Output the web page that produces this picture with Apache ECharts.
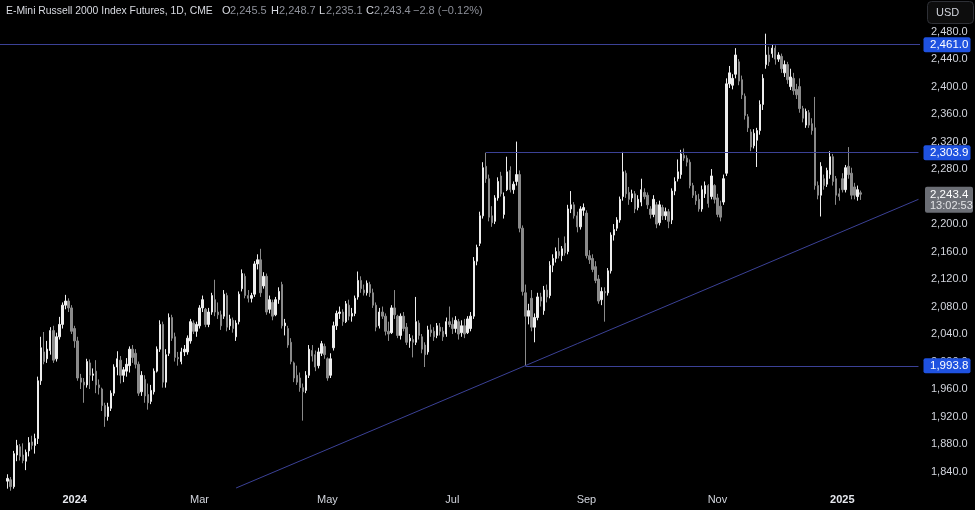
<!DOCTYPE html>
<html><head><meta charset="utf-8">
<script src="https://cdn.jsdelivr.net/npm/echarts@6/dist/echarts.min.js"></script>
<style>html,body{margin:0;padding:0;background:#000;}#c{width:975px;height:510px;}</style>
</head><body><div id="c"></div>
<script>
// ---- data (E-Mini Russell 2000 Index Futures, 1D, CME) ----
const firstDate = '2023-11-29';   // first candle
const leadSlots = 2;               // empty slots before first candle
const totalSlots = 302;            // visible bar slots incl. empty right margin
const holidays = ['2023-12-25','2024-01-01','2024-01-15','2024-02-19','2024-03-29','2024-05-27','2024-06-19','2024-07-04','2024-09-02','2024-11-28','2024-12-25','2025-01-01','2025-01-20'];

const opens = [
1826,1828,1818,1864,1876,1864,1855,1870,1883,1878,
1888,1972,2014,2004,2016,2045,2004,2036,2054,2082,
2088,2078,2048,2030,1976,1970,1966,1998,1980,1986,
1966,1960,1936,1920,1932,1954,1992,2002,1980,1986,
1994,2018,2012,1996,1956,1974,1952,1942,1956,1986,
2018,2054,1970,2012,2064,2036,2006,2000,2014,2014,
2030,2056,2044,2052,2078,2076,2054,2072,2090,2072,
2068,2066,2096,2052,2060,2036,2058,2106,2124,2096,
2092,2098,2142,2148,2110,2124,2076,2086,2068,2090,
2112,2052,2048,2028,1998,1980,1976,1962,1958,1980,
2016,2010,1994,2012,2022,2004,1980,2020,2052,2070,
2072,2058,2082,2066,2070,2094,2118,2104,2100,2112,
2100,2082,2052,2072,2066,2044,2042,2078,2066,2038,
2066,2050,2030,2032,2028,2056,2036,2024,2014,2046,
2044,2038,2050,2044,2040,2058,2054,2048,2058,2042,
2052,2042,2048,2066,2146,2172,2212,2284,2266,2212,
2204,2238,2270,2214,2250,2278,2250,2262,2272,2194,
2100,2066,2092,2050,2064,2094,2074,2104,2096,2140,
2150,2160,2154,2172,2160,2222,2228,2212,2196,2220,
2216,2154,2150,2138,2120,2090,2102,2100,2132,2184,
2194,2206,2240,2274,2246,2238,2244,2224,2232,2246,
2242,2222,2214,2228,2202,2224,2212,2218,2206,2248,
2266,2272,2300,2296,2290,2256,2242,2236,2222,2244,
2256,2240,2256,2238,2226,2232,2274,2404,2402,2418,
2436,2410,2386,2356,2334,2314,2322,2336,2374,2432,
2446,2448,2456,2440,2444,2420,2432,2400,2412,2396,
2400,2368,2344,2362,2346,2340,2256,2242,2266,2258,
2272,2298,2266,2244,2266,2250,2284,2274,2254,2240,
2245.5];
const highs = [
1836,1832,1870,1886,1880,1881,1872,1890,1892,1895,
1978,2036,2043,2030,2050,2052,2042,2065,2086,2097,
2092,2082,2052,2036,1982,1976,2004,2003,1990,2002,
1974,1962,1940,1940,1958,1996,2015,2008,1992,2005,
2022,2024,2018,2000,1986,1980,1968,1966,1990,2022,
2060,2058,2018,2070,2068,2042,2014,2020,2024,2038,
2062,2060,2058,2082,2096,2078,2078,2100,2119,2086,
2074,2104,2100,2068,2064,2060,2102,2134,2128,2104,
2100,2146,2156,2164,2130,2128,2096,2090,2094,2108,
2116,2062,2052,2034,2000,1994,1984,1968,1986,2024,
2024,2016,2020,2030,2026,2006,2012,2058,2074,2080,
2076,2088,2090,2078,2096,2131,2124,2112,2118,2116,
2106,2086,2078,2080,2070,2058,2082,2104,2068,2070,
2072,2056,2040,2038,2094,2060,2040,2028,2052,2054,
2050,2056,2056,2050,2064,2080,2064,2066,2062,2060,
2062,2066,2072,2152,2170,2218,2290,2303.9,2272,2226,
2242,2268,2276,2246,2298,2284,2262,2320,2278,2198,
2112,2084,2104,2070,2100,2100,2110,2112,2146,2156,
2166,2180,2168,2182,2228,2248,2232,2218,2226,2230,
2220,2162,2156,2146,2126,2108,2108,2136,2188,2200,
2210,2240,2305,2278,2254,2250,2248,2242,2266,2252,
2246,2226,2242,2232,2234,2228,2224,2222,2252,2268,
2294,2308,2310,2300,2294,2260,2248,2244,2256,2262,
2258,2280,2258,2244,2234,2272,2412,2430,2418,2456,
2440,2416,2390,2360,2338,2338,2340,2380,2418,2477,
2458,2462,2460,2450,2448,2438,2436,2426,2420,2404,
2412,2372,2368,2366,2354,2385,2262,2290,2272,2282,
2306,2302,2270,2252,2274,2286,2312,2282,2260,2256,
2248.7];
const lows = [
1815,1812,1815,1855,1856,1852,1842,1862,1872,1866,
1880,1966,1996,1998,2010,1998,2000,2032,2048,2076,
2072,2040,2020,1972,1960,1940,1962,1960,1972,1954,
1952,1928,1905,1914,1928,1950,1980,1968,1970,1978,
1984,1998,1990,1950,1950,1940,1930,1938,1952,1984,
2014,1962,1962,2008,2030,2000,1994,1996,2008,2010,
2026,2040,2036,2048,2072,2050,2050,2068,2066,2062,
2046,2062,2044,2046,2042,2030,2054,2102,2092,2086,
2086,2094,2134,2094,2106,2068,2070,2060,2066,2084,
2048,2038,2020,1996,1970,1966,1956,1914,1954,1976,
2000,1986,1990,2008,2004,1972,1976,2016,2046,2062,
2052,2056,2060,2058,2066,2090,2100,2096,2096,2094,
2078,2044,2048,2062,2038,2030,2040,2062,2034,2032,
2044,2024,2020,2006,2024,2032,2012,1992,2010,2036,
2030,2034,2038,2030,2036,2050,2040,2042,2032,2036,
2034,2040,2044,2062,2140,2168,2208,2260,2204,2196,
2200,2234,2240,2208,2248,2246,2244,2256,2188,2096,
1993.8,2054,2044,2028,2060,2080,2068,2086,2092,2130,
2144,2150,2146,2154,2156,2216,2208,2188,2192,2212,
2150,2142,2130,2114,2084,2082,2058,2096,2128,2176,
2190,2202,2234,2238,2228,2232,2216,2220,2226,2236,
2222,2208,2210,2194,2198,2206,2206,2194,2200,2242,
2262,2266,2292,2284,2252,2238,2228,2218,2218,2238,
2224,2236,2230,2210,2204,2228,2270,2398,2396,2412,
2402,2382,2352,2334,2306,2310,2283,2330,2366,2426,
2430,2442,2432,2436,2420,2414,2404,2395,2388,2382,
2362,2348,2340,2340,2330,2250,2236,2211,2250,2254,
2266,2256,2228,2234,2246,2246,2266,2236,2236,2234,
2235.1];
const closes = [
1830,1818,1866,1878,1862,1856,1868,1882,1878,1888,
1972,2020,2000,2018,2045,2002,2036,2054,2082,2088,
2078,2044,2030,1976,1970,1966,2000,1980,1982,1966,
1962,1936,1920,1934,1954,1992,2004,1980,1988,1996,
2018,2006,1996,1954,1980,1950,1940,1958,1986,2018,
2054,1970,2010,2064,2034,2006,2004,2014,2018,2034,
2058,2044,2054,2078,2090,2054,2072,2096,2072,2068,
2052,2098,2050,2062,2048,2056,2098,2128,2096,2092,
2096,2142,2148,2100,2124,2072,2090,2066,2090,2102,
2052,2056,2024,2000,1976,1970,1962,1956,1980,2018,
2008,1992,2014,2026,2010,1976,2004,2052,2070,2072,
2058,2084,2066,2070,2092,2118,2106,2100,2114,2100,
2082,2050,2072,2066,2044,2040,2078,2068,2038,2066,
2048,2028,2034,2028,2058,2038,2018,2010,2046,2042,
2036,2052,2044,2036,2058,2054,2048,2060,2040,2052,
2040,2062,2066,2146,2166,2212,2282,2266,2210,2202,
2238,2262,2244,2240,2276,2250,2258,2272,2194,2102,
2066,2074,2050,2064,2094,2088,2104,2094,2140,2150,
2160,2154,2164,2158,2222,2228,2212,2196,2222,2224,
2154,2148,2134,2118,2088,2102,2100,2132,2184,2192,
2206,2236,2276,2244,2236,2244,2222,2236,2250,2240,
2228,2214,2236,2200,2228,2212,2218,2204,2248,2262,
2276,2302,2296,2290,2256,2242,2234,2222,2250,2256,
2230,2270,2236,2214,2210,2266,2404,2420,2412,2446,
2408,2388,2358,2340,2312,2332,2336,2374,2412,2446,
2436,2456,2440,2446,2426,2432,2410,2414,2394,2388,
2368,2354,2364,2344,2336,2256,2242,2284,2256,2278,
2298,2262,2242,2240,2250,2282,2272,2242,2242,2250,
2243.4];

const yTicks = [1840,1880,1920,1960,2000,2040,2080,2120,2160,2200,2240,2280,2320,2360,2400,2440,2480];
const monthNames = ['Jan','Feb','Mar','Apr','May','Jun','Jul','Aug','Sep','Oct','Nov','Dec'];
const labelMonths = [0,2,4,6,8,10];

// drawn levels: [price, start date]
const levels = [[2461.0, null],[2303.9,'2024-07-17'],[1993.8,'2024-08-05']];
const trendline = [['2024-03-19',1816],['2025-02-07',2236]];
const lastBar = {open:'2,245.5', high:'2,248.7', low:'2,235.1', close:'2,243.4', change:'\u22122.8 (\u22120.12%)', price:2243.4, timer:'13:02:53'};
const title = 'E-Mini Russell 2000 Index Futures, 1D, CME';

// ---- build categories (trading days) ----
function fmt(d){return d.toISOString().slice(0,10);}
const dates = [];
(function(){
  let d = new Date(firstDate+'T00:00:00Z');
  const back=[]; let b=new Date(d);
  while(back.length<leadSlots){ b=new Date(b.getTime()-86400000); const wd=b.getUTCDay(); if(wd!==0&&wd!==6&&holidays.indexOf(fmt(b))<0) back.unshift(fmt(b)); }
  dates.push(...back);
  while(dates.length<totalSlots){ const wd=d.getUTCDay(); if(wd!==0&&wd!==6&&holidays.indexOf(fmt(d))<0) dates.push(fmt(d)); d=new Date(d.getTime()+86400000); }
})();
const candles = dates.map((_,i)=>{const k=i-leadSlots; return (k>=0&&k<closes.length)?[opens[k],closes[k],lows[k],highs[k]]:'-';});
const showLabel = dates.map((s,i)=> i>0 && s.slice(5,7)!==dates[i-1].slice(5,7) && labelMonths.indexOf(+s.slice(5,7)-1)>=0);

const FONT = "'Liberation Sans',Arial,sans-serif";
const lineColor = '#3b4196';
const fmtPrice = v => v.toLocaleString('en-US',{minimumFractionDigits:1,maximumFractionDigits:1});

const markData = levels.map(([v,start]) => start===null ? {yAxis:v} : [{coord:[start,v]},{coord:[dates[dates.length-1],v]}]);
markData.push([{coord:trendline[0]},{coord:trendline[1]}]);

const chart = echarts.init(document.getElementById('c'),null,{renderer:'canvas'});
chart.setOption({
  backgroundColor:'#000',
  animation:false,
  grid:{left:-1,right:55,top:0,bottom:22},
  xAxis:{type:'category',data:dates,boundaryGap:true,
    axisLine:{show:false},axisTick:{show:false},splitLine:{show:false},
    axisLabel:{interval:(i)=>showLabel[i],margin:6,color:'#d1d4dc',fontSize:11,fontFamily:FONT,
      formatter:(v)=>{const m=+v.slice(5,7)-1; return m===0?'{y|'+v.slice(0,4)+'}':monthNames[m];},
      rich:{y:{fontWeight:'bold',fontSize:11,color:'#e6e8ee',fontFamily:FONT}}}},
  yAxis:{type:'value',position:'right',min:1816,max:2526,scale:true,
    axisLine:{show:false},axisTick:{show:false,customValues:yTicks},splitLine:{show:false},
    axisLabel:{customValues:yTicks,margin:11,color:'#d1d4dc',fontSize:11,fontFamily:FONT,formatter:fmtPrice}},
  series:[{type:'candlestick',data:candles,barWidth:1.9,
    itemStyle:{color:'#eeeeee',color0:'#8a8a8a',borderColor:'#eeeeee',borderColor0:'#8a8a8a',borderWidth:1},
    markLine:{silent:true,symbol:['none','none'],label:{show:false},animation:false,
      lineStyle:{color:lineColor,width:1,type:'solid'},data:markData}}]
});

// ---- header, price tags (positions from the chart's own scale) ----
const py = v => chart.convertToPixel({yAxisIndex:0}, v);
const g = [];
const tx = (x,y,text,fill,size,extra)=>Object.assign({type:'text',x,y,z:100,style:Object.assign({text,fill,fontSize:size,fontFamily:FONT,verticalAlign:'middle'},extra||{})});
g.push(tx(6,11,title,'#d9dbe2',10.4));
g.push(tx(222,11,'O','#d9dbe2',11)); g.push(tx(230,11,lastBar.open,'#8d9099',11));
g.push(tx(271,11,'H','#d9dbe2',11)); g.push(tx(279,11,lastBar.high,'#8d9099',11));
g.push(tx(319,11,'L','#d9dbe2',11)); g.push(tx(326,11,lastBar.low,'#8d9099',11));
g.push(tx(366,11,'C','#d9dbe2',11)); g.push(tx(374,11,lastBar.close,'#8d9099',11));
g.push(tx(413,11,lastBar.change,'#8d9099',11));
g.push({type:'rect',z:100,shape:{x:927.5,y:1.5,width:46,height:22,r:4},style:{fill:'#0d0d0d',stroke:'#2e3036',lineWidth:1}});
g.push(tx(936,12.5,'USD','#d1d4dc',11));
levels.forEach(([v])=>{
  const y=py(v);
  g.push({type:'rect',z:100,shape:{x:923.5,y:y-7.5,width:47,height:15,r:2},style:{fill:'#1f52e0'}});
  g.push(tx(930,y+0.5,fmtPrice(v),'#ffffff',11.5));
});
{
  const y=py(lastBar.price);
  g.push({type:'rect',z:100,shape:{x:925,y:y-7.5,width:48,height:26,r:2},style:{fill:'#6b6e75'}});
  g.push(tx(930,y+0.5,fmtPrice(lastBar.price),'#ffffff',11.5));
  g.push(tx(930,y+12,lastBar.timer,'#e2e3e6',11));
}
chart.setOption({graphic:{elements:g}});
</script>
</body></html>
